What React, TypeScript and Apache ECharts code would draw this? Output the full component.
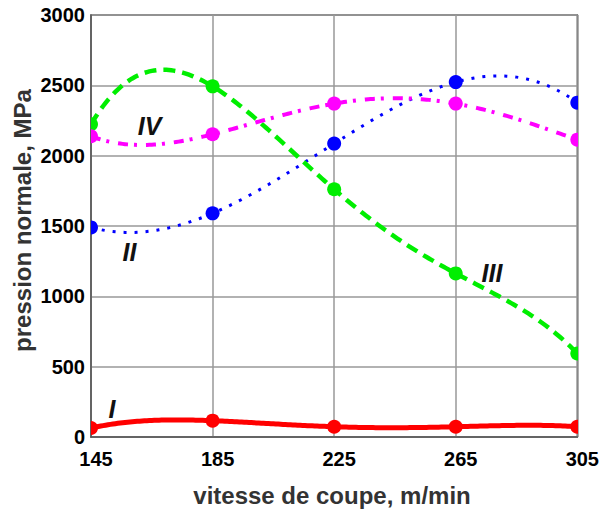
import React, { useEffect, useRef } from 'react';
import * as echarts from 'echarts';

// cutting speed, m/min
const speeds = [145, 185, 225, 265, 305];
// normal pressure, MPa
const curveI = [64, 116, 73, 73, 73];
const curveII = [1490, 1590, 2086, 2523, 2377];
const curveIII = [2223, 2493, 1761, 1163, 594];
const curveIV = [2138, 2152, 2370, 2370, 2114];

const curveNames = ['I', 'II', 'III', 'IV'];
const xTitle = 'vitesse de coupe, m/min';
const yTitle = 'pression normale, MPa';

const FONT = "'Liberation Sans', Arial, sans-serif";

type Def = { name: string; values: number[]; color: string; width: number; dash: any };

const defs: Def[] = [
  { name: curveNames[0], values: curveI, color: '#ff0000', width: 5, dash: 'solid' },
  { name: curveNames[1], values: curveII, color: '#0000ff', width: 3, dash: [3, 8] },
  { name: curveNames[2], values: curveIII, color: '#00ee00', width: 4.5, dash: [12, 7] },
  { name: curveNames[3], values: curveIV, color: '#ff00ff', width: 4, dash: [10, 6, 3, 9] },
];

function curveSeries(def: Def) {
  return {
    type: 'custom',
    name: def.name + ' curve',
    coordinateSystem: 'cartesian2d',
    clip: true,
    z: 2,
    data: def.values.map((v, i) => [speeds[i], v]),
    renderItem: (params: any, api: any) => {
      if (params.dataIndex !== 0) return null;
      const pts = def.values.map((v, i) => api.coord([speeds[i], v]));
      const n = 200;
      const x0 = pts[0][0];
      const x1 = pts[pts.length - 1][0];
      let d = '';
      for (let k = 0; k <= n; k++) {
        const px = x0 + ((x1 - x0) * k) / n;
        let py = 0;
        for (let i = 0; i < pts.length; i++) {
          let w = 1;
          for (let j = 0; j < pts.length; j++) {
            if (j !== i) w *= (px - pts[j][0]) / (pts[i][0] - pts[j][0]);
          }
          py += w * pts[i][1];
        }
        d += (k === 0 ? 'M' : 'L') + px.toFixed(2) + ' ' + py.toFixed(2) + ' ';
      }
      return {
        type: 'path',
        shape: { pathData: d },
        style: {
          fill: 'none',
          stroke: def.color,
          lineWidth: def.width,
          lineDash: def.dash,
          lineCap: 'butt',
          lineJoin: 'round',
        },
      };
    },
  };
}

function markerSeries(def: Def) {
  return {
    type: 'custom',
    name: def.name,
    coordinateSystem: 'cartesian2d',
    clip: true,
    z: 3,
    data: def.values.map((v, i) => [speeds[i], v]),
    renderItem: (params: any, api: any) => {
      const p = api.coord([api.value(0), api.value(1)]);
      return {
        type: 'circle',
        shape: { cx: p[0], cy: p[1], r: 7 },
        style: { fill: def.color },
      };
    },
  };
}

function labelText(text: string, x: number, y: number) {
  return {
    type: 'text',
    x,
    y,
    style: {
      text,
      fill: '#111',
      font: `italic bold 25px ${FONT}`,
      align: 'center',
      verticalAlign: 'middle',
    },
  };
}

export default function App() {
  const ref = useRef<HTMLDivElement>(null);
  useEffect(() => {
    if (!ref.current) return;
    const chart = echarts.init(ref.current, null, { renderer: 'svg' });
    chart.setOption({
      animation: false,
      backgroundColor: '#ffffff',
      grid: {
        left: 91,
        right: 24,
        top: 15,
        bottom: 73,
        show: true,
        borderColor: '#555',
        borderWidth: 1.5,
        containLabel: false,
      },
      xAxis: {
        type: 'value',
        min: 145,
        max: 305,
        interval: 40,
        axisLine: { show: true, lineStyle: { color: '#555', width: 1.5 } },
        axisTick: { show: false },
        splitLine: { show: true, lineStyle: { color: '#999', width: 1.5 } },
        axisLabel: {
          color: '#000',
          fontSize: 20,
          fontWeight: 'bold',
          fontFamily: FONT,
          margin: 12,
          padding: [0, 0, 0, 10],
          formatter: (v: number) => String(v),
        },
      },
      yAxis: {
        type: 'value',
        min: 0,
        max: 3000,
        interval: 500,
        axisLine: { show: true, lineStyle: { color: '#555', width: 1.5 } },
        axisTick: { show: false },
        splitLine: { show: true, lineStyle: { color: '#999', width: 1.5 } },
        axisLabel: {
          color: '#000',
          fontSize: 20,
          fontWeight: 'bold',
          fontFamily: FONT,
          margin: 6,
          padding: [3, 0, 0, 0],
          formatter: (v: number) => String(v),
        },
      },
      graphic: [
        {
          type: 'text',
          x: 332,
          y: 495,
          style: {
            text: xTitle,
            fill: '#333',
            font: `bold 24px ${FONT}`,
            align: 'center',
            verticalAlign: 'middle',
          },
        },
        {
          type: 'text',
          x: 22,
          y: 220.5,
          rotation: Math.PI / 2,
          style: {
            text: yTitle,
            fill: '#333',
            font: `bold 24px ${FONT}`,
            align: 'center',
            verticalAlign: 'middle',
          },
        },
        labelText(curveNames[3], 149.5, 126),
        labelText(curveNames[1], 129.5, 252),
        labelText(curveNames[2], 492, 272.5),
        labelText(curveNames[0], 112, 408.5),
      ],
      series: [...defs.map(curveSeries), ...defs.map(markerSeries)],
    });
    return () => chart.dispose();
  }, []);
  return (
    <div
      ref={ref}
      style={{ position: 'fixed', left: 0, top: 0, width: 602, height: 510, background: '#fff' }}
    />
  );
}
